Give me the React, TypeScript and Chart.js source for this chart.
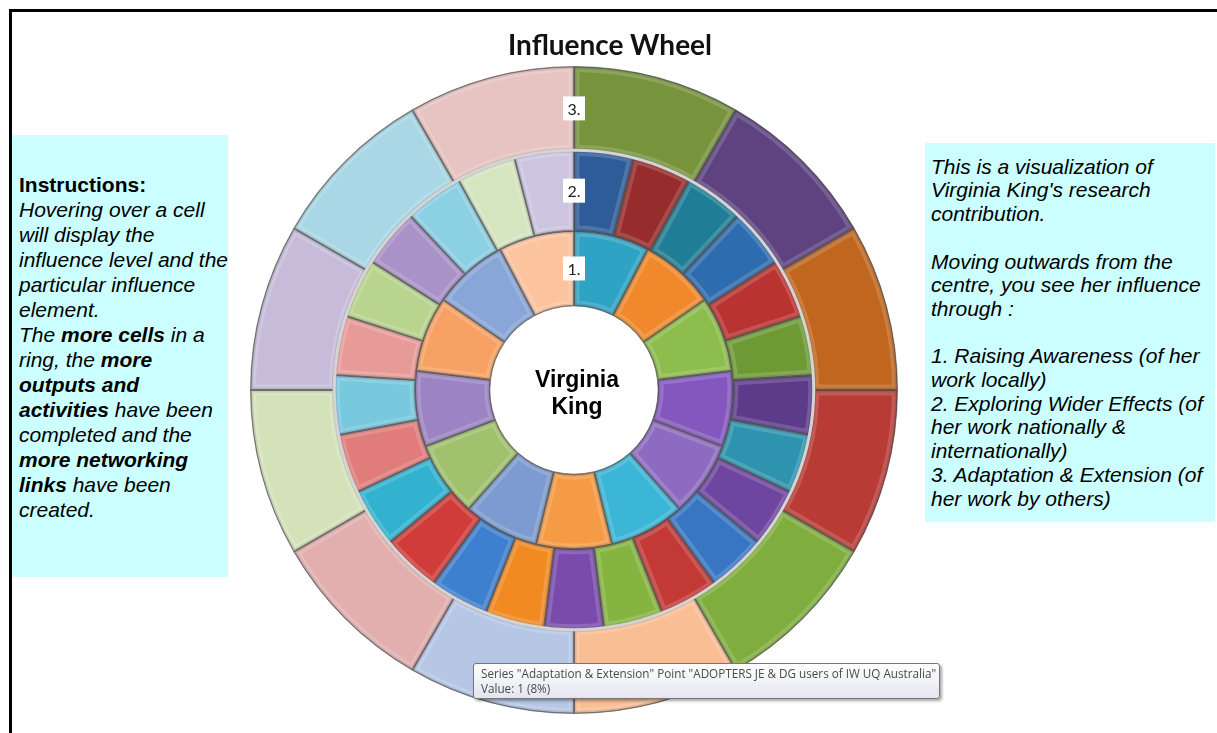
import React, { useEffect, useRef } from 'react';
import { Chart, registerables } from 'chart.js';

Chart.register(...registerables);

const chartTitle = 'Influence Wheel';
const centreName = ['Virginia', 'King'];
const seriesNames = ['Adaptation & Extension', 'Exploring Wider Effects', 'Raising Awareness'];
const ringLabels = ['3.', '2.', '1.'];

// ring 3 (outer): Adaptation & Extension – 12 cells
const adaptationValues = [1, 1, 1, 1, 1, 1, 1, 1, 1, 1, 1, 1];
// ring 2 (middle): Exploring Wider Effects – 25 cells
const widerEffectsValues = [1, 1, 1, 1, 1, 1, 1, 1, 1, 1, 1, 1, 1, 1, 1, 1, 1, 1, 1, 1, 1, 1, 1, 1, 1];
// ring 1 (inner): Raising Awareness – 13 cells
const awarenessValues = [1, 1, 1, 1, 1, 1, 1, 1, 1, 1, 1, 1, 1];

const adaptationColors = [
  '#77933C', '#5E4380', '#C0661E', '#B83B35', '#7FAE3E', '#F9BE94',
  '#B6C7E6', '#E2AFAE', '#D4E2BA', '#C6BCD9', '#A9D7E5', '#E7C3C2',
];
const widerEffectsColors = [
  '#2E5C99', '#962C2B', '#1F7E95', '#2E6CB0', '#B93331', '#6E9A35',
  '#5B3B8A', '#2D93AE', '#6E46A0', '#3876C4', '#C23936', '#86B441',
  '#7A4AAC', '#F28A22', '#3D80CF', '#CF3C3A', '#33B2D0', '#E07D7B',
  '#78C8DE', '#E79B99', '#B9D48E', '#A892C8', '#8CD0E3', '#D5E5C0',
  '#CDC4E0',
];
const awarenessColors = [
  '#2FA3C3', '#F0892C', '#8DBD4C', '#8357BE', '#8D6BC0', '#3BB6D6',
  '#F59A45', '#7D9BD0', '#A0C26E', '#9C84C4', '#F7A264', '#88A6D8',
  '#FBC49F',
];
const ringWeights = [84, 81, 75];

const wheelPlugin = {
  id: 'wheelDecor',
  afterDatasetsDraw(chart: any) {
    const ctx = chart.ctx as CanvasRenderingContext2D;
    let cx = 0;
    let cy = 0;
    chart.data.datasets.forEach((_ds: any, i: number) => {
      const meta = chart.getDatasetMeta(i);
      meta.data.forEach((arc: any) => {
        const { x, y, startAngle, endAngle, innerRadius, outerRadius } = arc;
        cx = x;
        cy = y;
        ctx.save();
        ctx.beginPath();
        ctx.arc(x, y, outerRadius, startAngle, endAngle);
        ctx.arc(x, y, innerRadius, endAngle, startAngle, true);
        ctx.closePath();
        ctx.clip();
        ctx.lineJoin = 'round';
        ctx.strokeStyle = 'rgba(255,255,255,0.16)';
        ctx.lineWidth = 11;
        ctx.stroke();
        ctx.strokeStyle = 'rgba(0,0,0,0.10)';
        ctx.lineWidth = 5;
        ctx.stroke();
        ctx.strokeStyle = 'rgba(40,40,40,0.38)';
        ctx.lineWidth = 2;
        ctx.stroke();
        ctx.restore();
      });
    });
    // separator between outer and middle ring
    const mid = chart.getDatasetMeta(1).controller as any;
    ctx.save();
    ctx.beginPath();
    ctx.arc(cx, cy, mid.outerRadius, 0, Math.PI * 2);
    ctx.strokeStyle = '#d4d4d4';
    ctx.lineWidth = 3;
    ctx.stroke();
    ctx.restore();

    // ring labels
    ctx.save();
    ctx.font = '16px Lato, "Liberation Sans", sans-serif';
    ctx.textAlign = 'center';
    ctx.textBaseline = 'middle';
    chart.data.datasets.forEach((_ds: any, i: number) => {
      const c = chart.getDatasetMeta(i).controller as any;
      const r = (c.outerRadius + c.innerRadius) / 2;
      const ly = cy - r;
      ctx.fillStyle = '#ffffff';
      ctx.fillRect(cx - 11, ly - 12, 22, 24);
      ctx.fillStyle = '#222222';
      ctx.fillText(ringLabels[i], cx, ly + 1);
    });
    ctx.restore();

    // centre name
    ctx.save();
    ctx.font = 'bold 23px "Liberation Sans", Arial, sans-serif';
    ctx.textAlign = 'center';
    ctx.textBaseline = 'alphabetic';
    ctx.fillStyle = '#000000';
    ctx.fillText(centreName[0], cx + 3, cy - 3);
    ctx.fillText(centreName[1], cx + 3, cy + 24);
    ctx.restore();
  },
};

const textFont = '"Liberation Sans", Arial, sans-serif';

export default function App() {
  const canvasRef = useRef<HTMLCanvasElement | null>(null);

  useEffect(() => {
    if (!canvasRef.current) return;
    const chart = new Chart(canvasRef.current, {
      type: 'doughnut',
      data: {
        labels: widerEffectsValues.map((_v, i) => `Cell ${i + 1}`),
        datasets: [
          {
            label: seriesNames[0],
            data: adaptationValues,
            backgroundColor: adaptationColors,
            borderColor: 'rgba(90,90,90,0.6)',
            borderWidth: 1,
            weight: ringWeights[0],
          },
          {
            label: seriesNames[1],
            data: widerEffectsValues,
            backgroundColor: widerEffectsColors,
            borderColor: 'rgba(90,90,90,0.6)',
            borderWidth: 1,
            weight: ringWeights[1],
          },
          {
            label: seriesNames[2],
            data: awarenessValues,
            backgroundColor: awarenessColors,
            borderColor: 'rgba(90,90,90,0.6)',
            borderWidth: 1,
            weight: ringWeights[2],
          },
        ],
      },
      options: {
        responsive: false,
        animation: false,
        cutout: '26%',
        layout: { padding: { left: 250, right: 319, top: 66, bottom: 19 } },
        plugins: {
          legend: { display: false },
          title: { display: false },
          tooltip: { enabled: false },
        },
        events: [],
      },
      plugins: [wheelPlugin],
    });
    return () => chart.destroy();
  }, []);

  return (
    <div style={{ position: 'absolute', left: 0, top: 0, width: 1217, height: 733, background: '#ffffff', overflow: 'hidden' }}>
      <canvas ref={canvasRef} width={1217} height={733} style={{ position: 'absolute', left: 0, top: 0, width: 1217, height: 733 }} />
      <div style={{ position: 'absolute', left: 9, top: 9, width: 1217, height: 733, borderTop: '3px solid #000', borderLeft: '3px solid #000', boxSizing: 'border-box', pointerEvents: 'none' }} />
      <div style={{ position: 'absolute', left: 410, top: 27, width: 400, textAlign: 'center', font: `bold 28px Lato, ${textFont}`, color: '#111' }}>
        {chartTitle}
      </div>
      <div style={{ position: 'absolute', left: 12, top: 135, width: 216, height: 442, background: '#CCFFFF', boxSizing: 'border-box', paddingLeft: 7, paddingTop: 37, font: `italic 21px ${textFont}`, lineHeight: '25px', color: '#000', whiteSpace: 'nowrap' }}>
        <div><b style={{ fontStyle: 'normal' }}>Instructions:</b></div>
        <div>Hovering over a cell</div>
        <div>will display the</div>
        <div>influence level and the</div>
        <div>particular influence</div>
        <div>element.</div>
        <div>The <b>more cells</b> in a</div>
        <div>ring, the <b>more</b></div>
        <div><b>outputs and</b></div>
        <div><b>activities</b> have been</div>
        <div>completed and the</div>
        <div><b>more networking</b></div>
        <div><b>links</b> have been</div>
        <div>created.</div>
      </div>
      <div style={{ position: 'absolute', left: 925, top: 143, width: 290, height: 379, background: '#CCFFFF', boxSizing: 'border-box', paddingLeft: 6, display: 'flex', flexDirection: 'column', justifyContent: 'center', font: `italic 21px ${textFont}`, lineHeight: '23.7px', color: '#000', whiteSpace: 'nowrap' }}>
        <div>This is a visualization of</div>
        <div>Virginia King's research</div>
        <div>contribution.</div>
        <div>&nbsp;</div>
        <div>Moving outwards from the</div>
        <div>centre, you see her influence</div>
        <div>through :</div>
        <div>&nbsp;</div>
        <div>1. Raising Awareness (of her</div>
        <div>work locally)</div>
        <div>2. Exploring Wider Effects (of</div>
        <div>her work nationally &amp;</div>
        <div>internationally)</div>
        <div>3. Adaptation &amp; Extension (of</div>
        <div>her work by others)</div>
      </div>
      <div style={{ position: 'absolute', left: 473, top: 663, width: 467, height: 36, boxSizing: 'border-box', border: '1px solid #767676', borderRadius: 3, background: 'linear-gradient(#ffffff, #e4e5f0)', boxShadow: '2px 2px 3px rgba(0,0,0,0.35)', padding: '2px 7px', font: '11.7px "Open Sans", "Noto Sans", sans-serif', lineHeight: '15px', color: '#4a4a4a', whiteSpace: 'nowrap' }}>
        <div>Series "{seriesNames[0]}" Point "ADOPTERS JE &amp; DG users of IW UQ Australia"</div>
        <div>Value: 1 (8%)</div>
      </div>
    </div>
  );
}
